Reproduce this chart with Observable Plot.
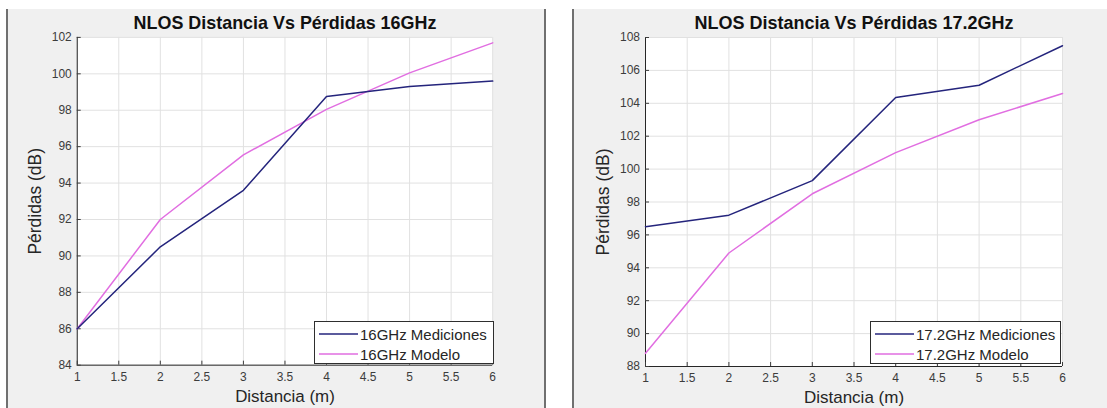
<!DOCTYPE html>
<html>
<head>
<meta charset="utf-8">
<script src="https://cdn.jsdelivr.net/npm/d3@7"></script>
<script src="https://cdn.jsdelivr.net/npm/@observablehq/plot@0.6"></script>
<style>
  body { margin: 0; background: #fff; font-family: "Liberation Sans", Arial, sans-serif; }
  #root { position: relative; width: 1107px; height: 408px; overflow: hidden; background: #fff; }
  .panel { position: absolute; top: 9px; height: 399px; background: #f0f0f0; box-sizing: border-box;
           border-left: 2px solid #707070; }
  .panel svg { position: absolute; left: -2px; top: 0; }
  .legend { position: absolute; background: #fff; border: 1px solid #2e2e2e; box-sizing: border-box;
            font-size: 15px; color: #262626; }
  .legend .row { position: absolute; left: 0; height: 20px; display: flex; align-items: center; white-space: nowrap; }
  .legend .row svg { position: static; }
</style>
</head>
<body>
<div id="root"></div>
<script>
// Distance (m) at which the losses were measured
const distancias = [1, 2, 3, 4, 5, 6];

// 16 GHz: measured losses and model (dB)
const mediciones16 = [86.0, 90.5, 93.6, 98.75, 99.3, 99.6];
const modelo16     = [86.0, 92.0, 95.55, 98.05, 100.05, 101.7];

// 17.2 GHz: measured losses and model (dB)
const mediciones172 = [96.5, 97.2, 99.3, 104.35, 105.1, 107.5];
const modelo172     = [88.8, 94.9, 98.5, 101.0, 103.0, 104.6];

// Axis ticks
const xTicks = [1, 1.5, 2, 2.5, 3, 3.5, 4, 4.5, 5, 5.5, 6];
const yTicks16 = [84, 86, 88, 90, 92, 94, 96, 98, 100, 102];
const yTicks172 = [88, 90, 92, 94, 96, 98, 100, 102, 104, 106, 108];

const colorMed = "#24247c";
const colorMod = "#e16ee1";
const gridColor = "#e1e1e1";
const axisColor = "#262626";

function chart({title, med, mod, yTicks, width, marginLeft, marginRight}) {
  const yDomain = [yTicks[0], yTicks[yTicks.length - 1]];
  return Plot.plot({
    width,
    height: 399,
    marginTop: 28,
    marginBottom: 42,
    marginLeft,
    marginRight,
    style: {background: "transparent", fontFamily: "'Liberation Sans', Arial, sans-serif", overflow: "visible"},
    x: {domain: [1, 6]},
    y: {domain: yDomain},
    marks: [
      Plot.frame({fill: "white", stroke: null}),
      Plot.gridX(xTicks, {stroke: gridColor, strokeOpacity: 1}),
      Plot.gridY(yTicks, {stroke: gridColor, strokeOpacity: 1}),
      Plot.ruleX([1], {stroke: axisColor}),
      Plot.ruleY([yDomain[0]], {stroke: axisColor}),
      Plot.axisX(xTicks, {tickSize: -4, tickPadding: 11, tickFormat: d => String(d), label: null,
        fontSize: 12, color: "#3c3c3c"}),
      Plot.axisY(yTicks, {tickSize: -4, tickPadding: 9.5, tickFormat: d => String(d), label: null,
        fontSize: 12, color: "#3c3c3c"}),
      Plot.line(distancias, {x: d => d, y: (d, i) => mod[i], stroke: colorMod, strokeWidth: 1.5}),
      Plot.line(distancias, {x: d => d, y: (d, i) => med[i], stroke: colorMed, strokeWidth: 1.5}),
      Plot.text([title], {frameAnchor: "top", dy: -14, fontSize: 18, fontWeight: "bold", fill: "#111",
        textAnchor: "middle", lineAnchor: "middle"}),
      Plot.text(["Distancia (m)"], {frameAnchor: "bottom", dy: 31.5, fontSize: 17, fill: axisColor,
        textAnchor: "middle", lineAnchor: "middle"}),
      Plot.text(["Pérdidas (dB)"], {frameAnchor: "left", dx: -42, rotate: -90, fontSize: 17.5, fill: axisColor,
        textAnchor: "middle", lineAnchor: "middle"})
    ]
  });
}

function legend(entries, box) {
  const el = document.createElement("div");
  el.className = "legend";
  Object.assign(el.style, {left: box.left + "px", top: box.top + "px", width: box.width + "px", height: box.height + "px"});
  entries.forEach(([label, color], i) => {
    const row = document.createElement("div");
    row.className = "row";
    row.style.top = (2 + i * 20) + "px";
    row.style.left = box.pad + "px";
    const sw = d3.create("svg").attr("width", box.line).attr("height", 20);
    sw.append("line").attr("x1", 0).attr("x2", box.line).attr("y1", 10).attr("y2", 10)
      .attr("stroke", color).attr("stroke-width", 1.5);
    row.appendChild(sw.node());
    const t = document.createElement("span");
    t.textContent = label;
    t.style.marginLeft = "2px";
    row.appendChild(t);
    el.appendChild(row);
  });
  return el;
}

const root = document.getElementById("root");

// Left panel: 16 GHz
const p1 = document.createElement("div");
p1.className = "panel";
Object.assign(p1.style, {left: "6px", width: "540px", borderRight: "2px solid #707070"});
p1.appendChild(chart({title: "NLOS Distancia Vs Pérdidas 16GHz", med: mediciones16, mod: modelo16,
  yTicks: yTicks16, width: 538, marginLeft: 71, marginRight: 50}));
root.appendChild(p1);
root.appendChild(legend([["16GHz Mediciones", colorMed], ["16GHz Modelo", colorMod]],
  {left: 314, top: 321, width: 180, height: 43, pad: 4, line: 39}));

// Right panel: 17.2 GHz
const p2 = document.createElement("div");
p2.className = "panel";
Object.assign(p2.style, {left: "572px", width: "540px"});
p2.appendChild(chart({title: "NLOS Distancia Vs Pérdidas 17.2GHz", med: mediciones172, mod: modelo172,
  yTicks: yTicks172, width: 538, marginLeft: 73, marginRight: 48}));
root.appendChild(p2);
root.appendChild(legend([["17.2GHz Mediciones", colorMed], ["17.2GHz Modelo", colorMod]],
  {left: 870, top: 321, width: 191, height: 43, pad: 4, line: 39}));
</script>
</body>
</html>
